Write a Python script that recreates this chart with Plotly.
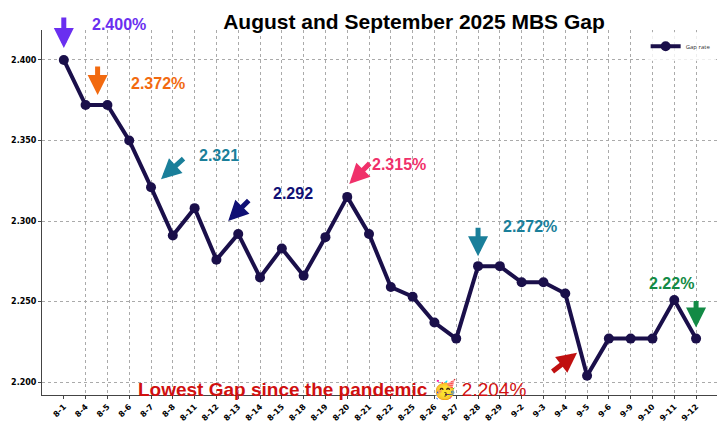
import plotly.graph_objects as go

dates = ["8-1","8-4","8-5","8-6","8-7","8-8","8-11","8-12","8-13","8-14","8-15","8-18","8-19","8-20","8-21","8-22","8-25","8-26","8-27","8-28","8-29","9-2","9-3","9-4","9-5","9-6","9-9","9-10","9-11","9-12"]
gap = [2.400,2.372,2.372,2.350,2.321,2.291,2.308,2.276,2.292,2.265,2.283,2.266,2.290,2.315,2.292,2.259,2.253,2.237,2.227,2.272,2.272,2.262,2.262,2.255,2.204,2.227,2.227,2.227,2.251,2.227]
y_ticks = [2.200,2.250,2.300,2.350,2.400]

x = list(range(len(dates)))
fig = go.Figure(go.Scatter(x=x, y=gap, mode="lines+markers", name="Gap rate",
    line=dict(color="#1a0f4a", width=4), marker=dict(size=10, color="#1a0f4a")))

callouts = [
    (0, "2.400%", "#6a2ff0", 55, 35, 0, 12, 0, -32),
    (1, "2.372%", "#f26a10", 72, 22, 12, 10, 0, -30),
    (4, "2.321", "#1a7f9a", 68, 32, 10, 8, 24, -22),
    (8, "2.292", "#101075", 55, 40, -10, 13, 22, -22),
    (13, "2.315%", "#f0306a", 52, 32, 2, 13, 22, -22),
    (19, "2.272%", "#1a7f9a", 52, 40, 0, 10, 0, -30),
    (29, "2.22%", "#138a45", -25, 55, 0, 11, 0, -28),
    (24, "", "#c01010", 0, 0, -10, 23, -26, 20),
]
F = "Liberation Sans"
anns = []
for i, txt, col, dx, dy, tx, ty, ax, ay in callouts:
    anns.append(dict(x=x[i], y=gap[i], xref="x", yref="y", text="", showarrow=True,
        arrowhead=2, arrowsize=0.8, arrowwidth=5, arrowcolor=col,
        ax=ax, ay=ay, standoff=0, xshift=tx, yshift=ty))
    if txt:
        anns.append(dict(x=x[i], y=gap[i], xref="x", yref="y", text=f"<b>{txt}</b>", showarrow=False,
            xshift=dx, yshift=dy, font=dict(size=16, color=col, family=F), xanchor="center"))
anns.append(dict(x=0.43, y=2.1955, xref="paper", yref="y",
    text="<b>Lowest Gap since the pandemic 🥳</b> 2.204%",
    showarrow=False, font=dict(size=19, color="#d01010", family=F), xanchor="center", yanchor="middle"))

fig.update_layout(
    width=725, height=435, paper_bgcolor="white", plot_bgcolor="white",
    margin=dict(l=34, r=16, t=22, b=48, autoexpand=False),
    title=dict(text="<b>August and September 2025 MBS Gap</b>", x=0.56, y=0.985, xanchor="center",
               font=dict(size=21, color="black", family=F)),
    showlegend=True,
    legend=dict(x=0.998, y=0.995, xanchor="right", yanchor="top", font=dict(size=6, color="#333"),
                bgcolor="rgba(255,255,255,0.8)", itemwidth=30),
    annotations=anns,
)
fig.update_xaxes(range=[-1.0, 29.96], tickvals=x, ticktext=[f"<b>{d}</b>" for d in dates], tickangle=-45,
    tickfont=dict(size=8, color="black", family="DejaVu Sans"), automargin=False,
    showgrid=True, gridcolor="#aaaaaa", griddash="dot", gridwidth=1,
    showline=True, linecolor="#444", linewidth=1, ticks="outside", ticklen=3)
fig.update_yaxes(range=[2.192, 2.4186], tickvals=y_ticks, ticktext=[f"<b>{v:.3f}</b>" for v in y_ticks],
    tickfont=dict(size=8, color="black", family="DejaVu Sans"), automargin=False,
    showgrid=True, gridcolor="#aaaaaa", griddash="dot", gridwidth=1,
    showline=True, linecolor="#444", linewidth=1, ticks="outside", ticklen=3, zeroline=False)
fig.write_html("out.html")
